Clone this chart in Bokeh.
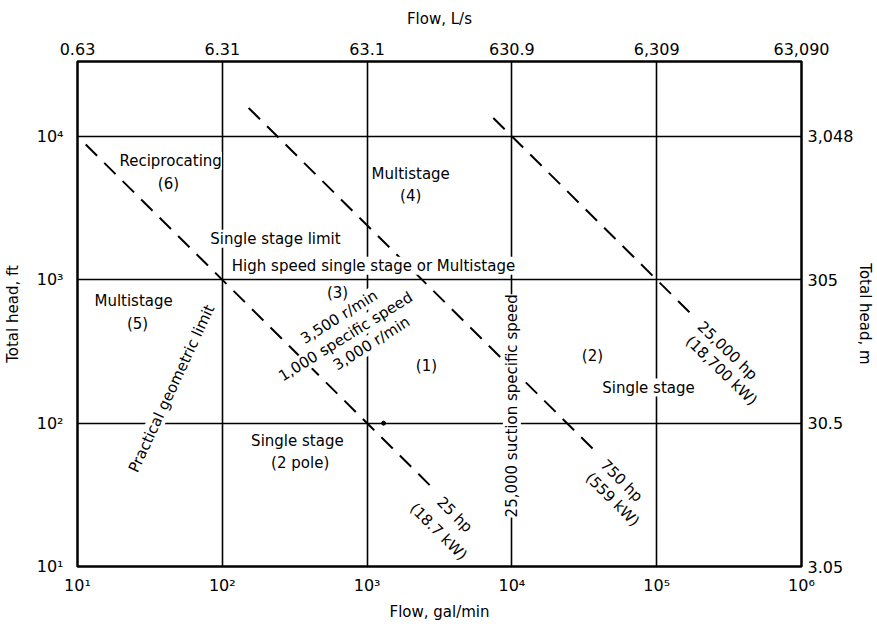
from bokeh.plotting import figure
from bokeh.models import LogAxis, FixedTicker, Label, Range1d
from bokeh.embed import file_html
from bokeh.resources import INLINE

FONT = "DejaVu Sans"

# ---- axes data ----
x_ticks = [10, 100, 1000, 10000, 100000, 1000000]
x_tick_labels = ["10¹", "10²", "10³", "10⁴", "10⁵", "10⁶"]
top_tick_labels = ["0.63", "6.31", "63.1", "630.9", "6,309", "63,090"]
y_ticks = [10, 100, 1000, 10000]
y_tick_labels = ["10¹", "10²", "10³", "10⁴"]
right_tick_labels = ["3.05", "30.5", "305", "3,048"]

# ---- constant power lines (head * flow = const) ----
power_const = [1.0e5, 2.4e6, 1.0e8]
power_flow_start = [11.4, 152, 7440]
power_flow_end = [2950, 36500, 178000]

# ---- marked point ----
point_flow = [1300]
point_head = [100]

# ---- horizontal region texts ----
region_texts = ["Reciprocating", "(6)", "Multistage", "(4)", "Single stage limit",
                "High speed single stage or Multistage", "Multistage", "(5)", "(3)",
                "(1)", "(2)", "Single stage", "Single stage", "(2 pole)"]
region_flow = [44, 42.5, 2000, 2000, 233, 1107, 24.4, 26, 625, 2570, 36000, 87700, 330, 345]
region_head = [6750, 4670, 5480, 3850, 1930, 1253, 714, 493, 811, 252, 295, 177, 75.5, 53]

# ---- rotated texts ----
rot_texts = ["Practical geometric limit", "25,000 suction specific speed",
             "3,000 r/min", "3,500 r/min", "1,000 specific speed",
             "25 hp", "(18.7 kW)", "750 hp", "(559 kW)", "25,000 hp", "(18,700 kW)"]
rot_flow = [44.6, 10000, 1072, 641, 710, 4020, 3110, 57100, 49500, 308000, 280000]
rot_head = [174, 132, 360, 550, 401, 23.0, 17.5, 39.7, 29.3, 320, 232]
rot_angle = [65, 90, 32, 32, 32, -45, -45, -45, -45, -44, -44]

p = figure(width=877, height=626, x_axis_type="log", y_axis_type="log",
           x_range=Range1d(10, 1e6), y_range=Range1d(10, 33300),
           output_backend="svg", toolbar_location=None,
           min_border_left=77, min_border_right=76, min_border_top=61, min_border_bottom=60)

p.outline_line_color = "black"
p.outline_line_width = 2.5
p.background_fill_color = "white"

def style_axis(ax, ticks, labels, title, label_standoff, title_standoff, size="16px"):
    ax.ticker = FixedTicker(ticks=ticks, minor_ticks=[])
    ax.major_label_overrides = dict(zip(ticks, labels))
    ax.axis_line_color = None
    ax.major_tick_line_color = None
    ax.minor_tick_line_color = None
    ax.major_label_text_font = FONT
    ax.major_label_text_font_size = size
    ax.major_label_text_color = "black"
    ax.major_label_standoff = label_standoff
    ax.axis_label = title
    ax.axis_label_text_font = FONT
    ax.axis_label_text_font_size = "15px"
    ax.axis_label_text_font_style = "normal"
    ax.axis_label_text_color = "black"
    ax.axis_label_standoff = title_standoff

style_axis(p.xaxis[0], x_ticks, x_tick_labels, "Flow, gal/min", 3, 5)
style_axis(p.yaxis[0], y_ticks, y_tick_labels, "Total head, ft", 8, 12)

top_axis = LogAxis()
style_axis(top_axis, x_ticks, top_tick_labels, "Flow, L/s", 1, 12)
p.add_layout(top_axis, "above")

right_axis = LogAxis()
style_axis(right_axis, y_ticks, right_tick_labels, "Total head, m", 0, 0)
p.add_layout(right_axis, "right")

p.xgrid.ticker = FixedTicker(ticks=x_ticks, minor_ticks=[])
p.ygrid.ticker = FixedTicker(ticks=y_ticks, minor_ticks=[])
for g in (p.xgrid, p.ygrid):
    g.grid_line_color = "black"
    g.grid_line_width = 1.6
    g.grid_line_alpha = 1.0

# constant-power dashed lines
for c, f0, f1 in zip(power_const, power_flow_start, power_flow_end):
    p.line([f0, f1], [c / f0, c / f1], line_color="black", line_width=2,
           line_dash="16 10")

p.scatter(point_flow, point_head, size=4, color="black")

for t, fx, hy in zip(region_texts, region_flow, region_head):
    p.add_layout(Label(x=fx, y=hy, text=t, text_font=FONT, text_font_size="15px",
                       text_align="center", text_baseline="middle", text_color="black",
                       background_fill_color="white", background_fill_alpha=1.0))

for t, fx, hy, a in zip(rot_texts, rot_flow, rot_head, rot_angle):
    p.add_layout(Label(x=fx, y=hy, text=t, text_font=FONT, text_font_size="15px",
                       angle=a, angle_units="deg",
                       text_align="center", text_baseline="middle", text_color="black",
                       background_fill_color="white", background_fill_alpha=1.0))

open("out.html", "w").write(file_html(p, INLINE))
